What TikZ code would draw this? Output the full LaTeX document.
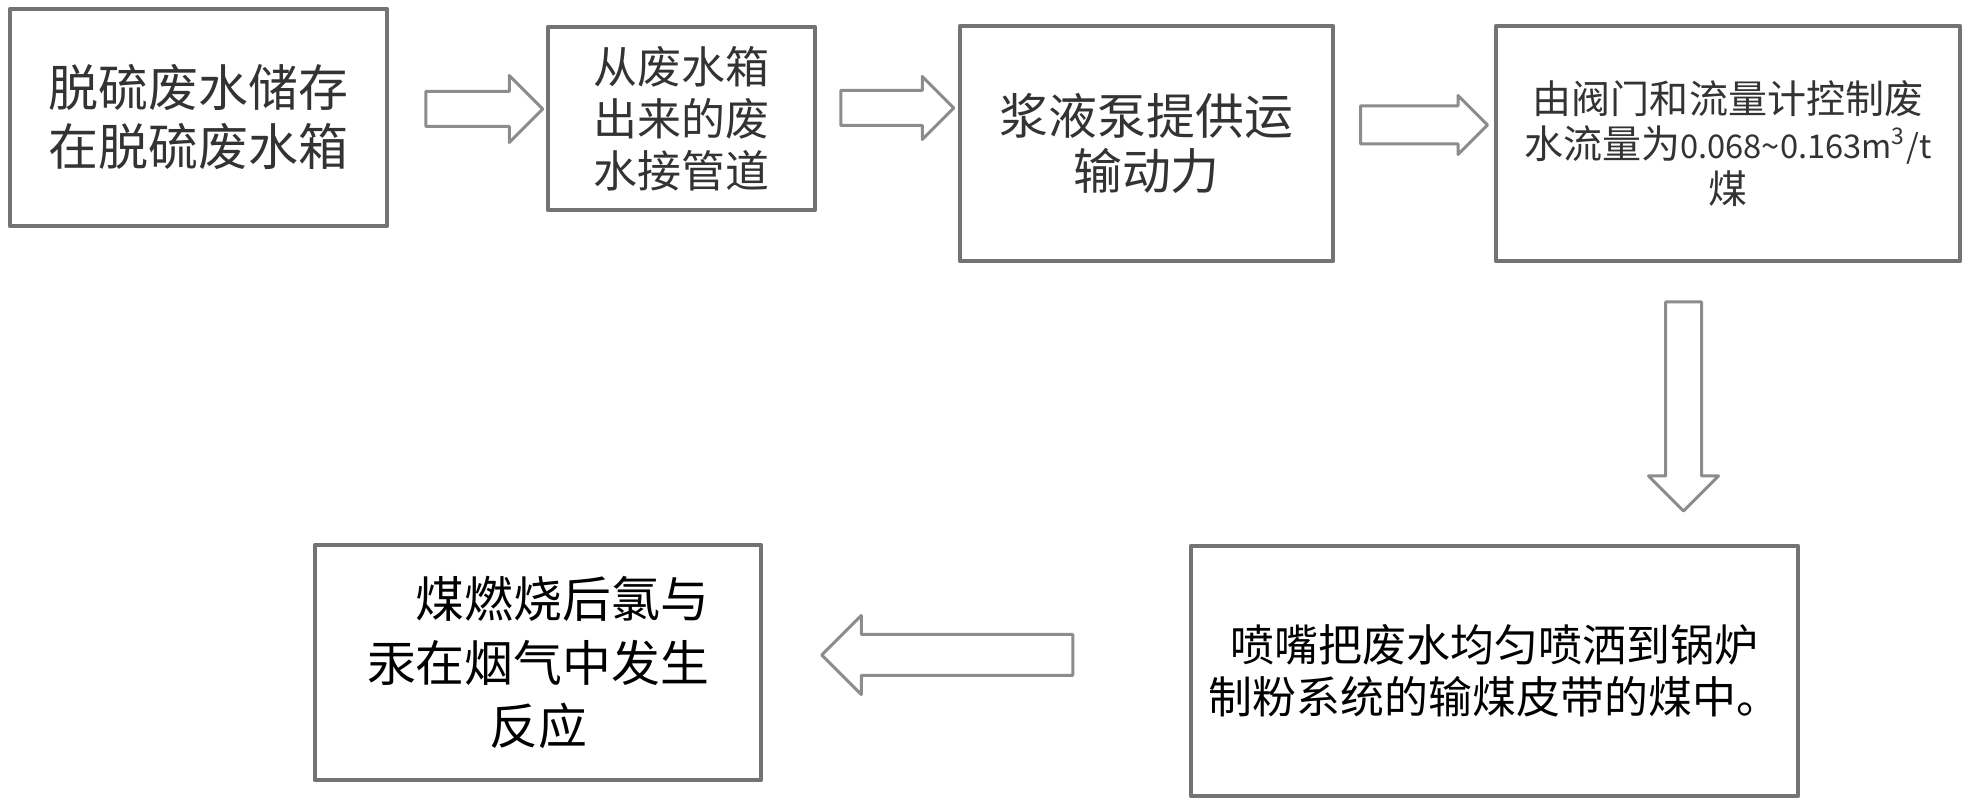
\documentclass[tikz,border=0pt]{standalone}
\usepackage{fontspec}
\setmainfont{Noto Sans CJK SC}
\usetikzlibrary{shapes.arrows}
\begin{document}
\begin{tikzpicture}[line join=round]
\tikzset{box/.style={draw=black!55, line width=0.45mm, inner sep=0pt, align=center},
  blockarrow/.style={single arrow, draw=black!45, fill=white, line width=0.3mm, inner xsep=0pt},
  toptext/.style={text=black!80}}
\useasboundingbox (0,0) rectangle (19.74,8.12);
\node[box, toptext, minimum width=3.77cm, minimum height=2.17cm, font=\fontsize{14.2}{16.8}\selectfont] (store) at (1.985,6.945) {脱硫废水储存\\在脱硫废水箱};
\node[box, toptext, minimum width=2.67cm, minimum height=1.83cm, font=\fontsize{12.5}{14.8}\selectfont] (pipe) at (6.815,6.935) {从废水箱\\出来的废\\水接管道};
\node[box, toptext, minimum width=3.73cm, minimum height=2.35cm, font=\fontsize{13.9}{15.6}\selectfont] (pump) at (11.465,6.685) {浆液泵提供运\\输动力};
\node[box, toptext, minimum width=4.64cm, minimum height=2.35cm, font=\fontsize{11.1}{12.8}\selectfont] (valve) at (17.28,6.685) {由阀门和流量计控制废\\水流量为{\fontsize{9.3}{12.8}\selectfont 0.068\textasciitilde 0.163m\textsuperscript{3}/t}\\煤};
\node[box, minimum width=6.07cm, minimum height=2.50cm, font=\fontsize{12.5}{14.8}\selectfont] (spray) at (14.945,1.41) {喷嘴把废水均匀喷洒到锅炉\\制粉系统的输煤皮带的煤中。};
\node[box, minimum width=4.46cm, minimum height=2.35cm, font=\fontsize{13.9}{18.2}\selectfont] (react) at (5.38,1.495) {　煤燃烧后氯与\\汞在烟气中发生\\反应};
\node[blockarrow, inner ysep=0.16cm, single arrow head extend=0.16cm, minimum height=1.17cm] (a1) at (4.755,7.03) {};
\node[blockarrow, inner ysep=0.16cm, single arrow head extend=0.14cm, minimum height=1.13cm] (a2) at (8.885,7.04) {};
\node[blockarrow, inner ysep=0.175cm, single arrow head extend=0.105cm, minimum height=1.27cm] (a3) at (14.145,6.87) {};
\node[blockarrow, inner xsep=0.165cm, inner ysep=0pt, single arrow head extend=0.17cm, minimum height=2.09cm, shape border rotate=270] (a4) at (16.835,4.145) {};
\node[blockarrow, inner ysep=0.19cm, single arrow head extend=0.19cm, minimum height=2.51cm, shape border rotate=180] (a5) at (9.575,1.57) {};
\end{tikzpicture}
\end{document}
